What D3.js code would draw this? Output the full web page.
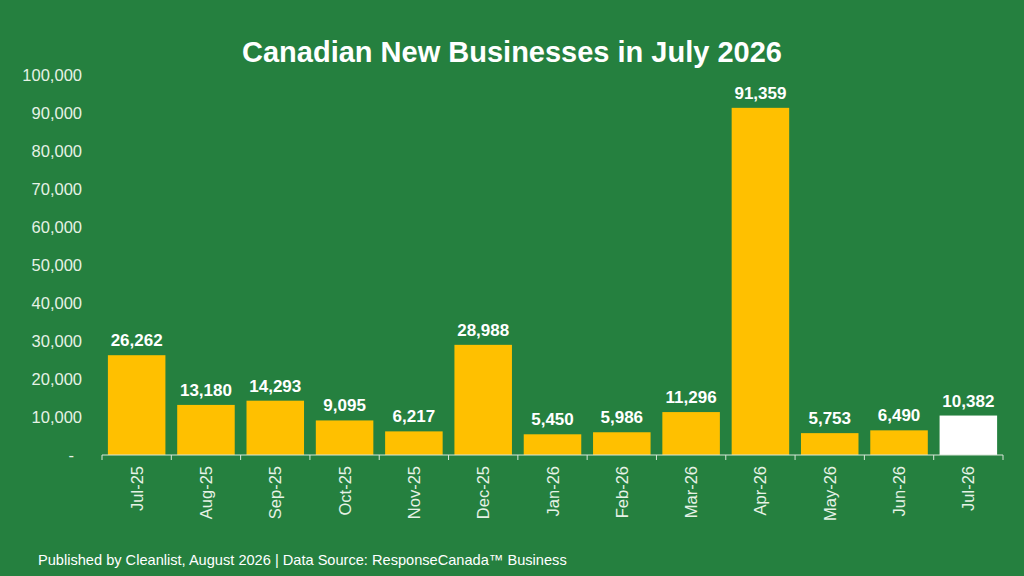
<!DOCTYPE html>
<html lang="en">
<head>
    <meta charset="UTF-8">
    <title>Canadian New Businesses</title>
    <script src="https://cdn.jsdelivr.net/npm/d3@7"></script>
    <style>
        body { margin: 0; background: #25803f; }
        #chart { width: 1024px; height: 576px; }
        text { font-family: "Liberation Sans", Arial, sans-serif; }
    </style>
</head>
<body>
    <div id="chart"></div>
<script>
    const months = ["Jul-25", "Aug-25", "Sep-25", "Oct-25", "Nov-25", "Dec-25", "Jan-26",
        "Feb-26", "Mar-26", "Apr-26", "May-26", "Jun-26", "Jul-26"];
    const counts = [26262, 13180, 14293, 9095, 6217, 28988, 5450, 5986, 11296, 91359, 5753, 6490, 10382];
    const yTicks = [0, 10000, 20000, 30000, 40000, 50000, 60000, 70000, 80000, 90000, 100000];

    let draw = () => {
        let svg = d3.select("#chart").append("svg")
            .attr("width", 1024)
            .attr("height", 576);

        let padding = { top: 75, left: 102, bottom: 121, right: 21 };
        let width = 1024 - padding.left - padding.right;
        let height = 576 - padding.top - padding.bottom;

        svg.append("rect").attr("width", 1024).attr("height", 576).attr("fill", "#25803f");

        // title
        svg.append("text")
            .attr("x", 512).attr("y", 62)
            .attr("text-anchor", "middle")
            .attr("fill", "#ffffff")
            .style("font-size", "29px")
            .style("font-weight", "bold")
            .text("Canadian New Businesses in July 2026");

        let focus = svg.append("g")
            .attr("transform", "translate(" + padding.left + "," + padding.top + ")");

        let x = d3.scaleBand().domain(months).range([0, width]).paddingInner(0.17).paddingOuter(0.085);
        let y = d3.scaleLinear().domain([0, 100000]).range([height, 0]);

        /*y axis - labels only*/
        let yAxis = d3.axisLeft(y).tickValues(yTicks).tickSize(0).tickPadding(20)
            .tickFormat(d => d === 0 ? "-" : d3.format(",")(d));
        let yg = focus.append("g").call(yAxis);
        yg.select(".domain").remove();
        yg.selectAll("text")
            .attr("fill", "#e6f2e6")
            .style("font-size", "16.5px");
        yg.selectAll("text").filter(d => d === 0).attr("dx", "-8px");

        /*bars*/
        focus.append("g").selectAll("rect")
            .data(counts)
            .enter().append("rect")
            .attr("x", (d, i) => x(months[i]))
            .attr("y", d => y(d))
            .attr("width", x.bandwidth())
            .attr("height", d => height - y(d))
            .attr("fill", (d, i) => i === months.length - 1 ? "#ffffff" : "#ffc000");

        /*value labels*/
        focus.append("g").selectAll("text")
            .data(counts)
            .enter().append("text")
            .attr("x", (d, i) => x(months[i]) + x.bandwidth() / 2)
            .attr("y", d => y(d) - 9)
            .attr("text-anchor", "middle")
            .attr("fill", "#ffffff")
            .style("font-size", "17px")
            .style("font-weight", "bold")
            .text(d => d3.format(",")(d));

        /*x axis with ticks at band boundaries*/
        let xg = focus.append("g").attr("transform", "translate(0," + height + ")");
        xg.append("line")
            .attr("x1", 0).attr("x2", width)
            .attr("stroke", "#d9e6d9").attr("stroke-width", 1);
        let step = x.step();
        let edges = d3.range(months.length + 1).map(i => x(months[0]) - step * x.paddingInner() / 2 + i * step);
        xg.selectAll(".tick-line")
            .data(edges)
            .enter().append("line")
            .attr("x1", d => d).attr("x2", d => d)
            .attr("y1", 0).attr("y2", 5)
            .attr("stroke", "#d9e6d9");
        xg.selectAll(".xlabel")
            .data(months)
            .enter().append("text")
            .attr("transform", d => "translate(" + (x(d) + x.bandwidth() / 2 + 6) + ",11) rotate(-90)")
            .attr("text-anchor", "end")
            .attr("fill", "#e6f2e6")
            .style("font-size", "16.5px")
            .text(d => d);

        /*footer*/
        svg.append("text")
            .attr("x", 38).attr("y", 565)
            .attr("fill", "#ffffff")
            .style("font-size", "14.6px")
            .text("Published by Cleanlist, August 2026 | Data Source: ResponseCanada™ Business");
    }
    draw();
</script>
</body>
</html>
